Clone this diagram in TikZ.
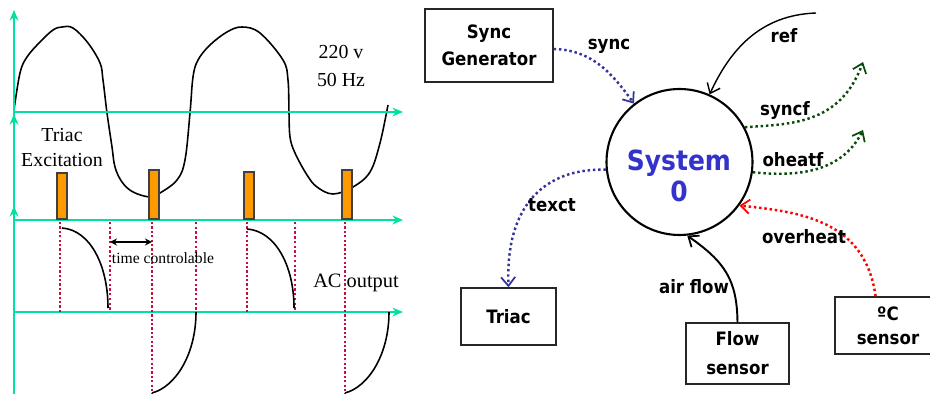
\documentclass[tikz,border=0pt]{standalone}
\usepackage{fontspec}
\setmainfont{Liberation Serif}
\newfontfamily\boxfont[FakeStretch=0.9]{DejaVu Sans}
\usetikzlibrary{arrows.meta}
\definecolor{axisgreen}{HTML}{00E0A0}
\definecolor{pulseorange}{HTML}{FF9900}
\definecolor{dotred}{HTML}{C4103C}
\definecolor{sysblue}{HTML}{3333CC}
\definecolor{linkblue}{HTML}{333399}
\definecolor{flowgreen}{HTML}{0A4A0A}
\tikzset{
  axisline/.style={axisgreen, line width=1.1pt, -{Stealth[length=6pt,width=5pt]}},
  gridline/.style={dotred, line width=1.1pt, dash pattern=on 1.3pt off 1.2pt},
  thinline/.style={dotred, line width=.7pt, dash pattern=on 1.3pt off 1.4pt},
  wave/.style={black, line width=.9pt},
  boxnode/.style={draw=black!85, line width=.8pt, align=center, inner sep=0pt, font=\boxfont\bfseries\fontsize{10.5}{15.5}\selectfont},
  flowlabel/.style={font=\boxfont\bfseries\fontsize{10.5}{12}\selectfont, inner sep=0pt},
  serifnote/.style={font=\fontsize{11.3}{12}\selectfont, inner sep=0pt, align=center},
  dotflow/.style={line width=1.4pt, dash pattern=on 1.4pt off 1.6pt, -{Straight Barb[length=5pt,width=8pt,line width=1pt]}},
}
\begin{document}
\begin{tikzpicture}[x=0.02cm,y=-0.02cm]
\useasboundingbox (0,0) rectangle (930,394);
% waveform side
\draw[wave] plot[smooth,tension=.6] coordinates {(14,110) (20,73) (27,57) (40,42) (53,30) (62,27) (73,28) (88,43) (100,63) (103,80) (107,113) (112,147) (115,167) (122,182) (133,192) (150,197) (160,193) (177,180) (185,160) (190,113) (193,77) (198,60) (210,45) (227,32) (242,27) (260,33) (283,60) (288,80) (289,113) (290,137) (295,153) (307,175) (317,187) (333,194) (353,187) (370,172) (380,143) (388,105)};
\draw[axisline] (14,120) -- (14,10);
\draw[axisline] (14,394) -- (14,114);
\draw[axisline] (14,394) -- (14,206);
\draw[axisline] (14,112) -- (403,112);
\draw[axisline] (14,220) -- (403,220);
\draw[axisline] (14,312) -- (403,312);
\foreach \px/\ptop in {62/173,154/170,249/172,347/170}
  \draw[fill=pulseorange, draw=black!75, line width=.8pt] (\px-5,\ptop) rectangle (\px+5,219);
\foreach \px/\pend in {60/312,152/394,247/312,345/394}
  \draw[gridline] (\px,222) -- (\px,\pend);
\foreach \px in {110,196,295}
  \draw[thinline] (\px,222) -- (\px,312);
\draw[wave] (62,228) .. controls (90,230) and (108,265) .. (108,308);
\draw[wave] (152,393) .. controls (175,387) and (196,355) .. (196,312);
\draw[wave] (247,229) .. controls (275,231) and (294,265) .. (294,308);
\draw[wave] (345,393) .. controls (368,387) and (389,355) .. (389,312);
\coordinate (tcleft) at (110,242);
\coordinate (tcright) at (152,242);
\draw[black, line width=.9pt, {Stealth[length=4pt,width=4pt]}-{Stealth[length=4pt,width=4pt]}] (tcleft) -- (tcright);
\node[serifnote, font=\fontsize{8.9}{10}\selectfont] (tclabel) at (163,258) {time controlable};
\node[serifnote, font=\fontsize{11.6}{12}\selectfont] (aclabel) at (356,283) {AC output};
\node[serifnote] (triaclabel) at (62,135) {Triac};
\node[serifnote] (exclabel) at (62,160) {Excitation};
\node[serifnote] (voltlabel) at (341,52) {220 v};
\node[serifnote] (freqlabel) at (341,80) {50 Hz};
% system side
\node[draw=black, line width=1.2pt, circle, minimum size=2.92cm, inner sep=0pt] (sys) at (679.5,162) {};
\node[font=\boxfont\bfseries\fontsize{15.8}{17.6}\selectfont, text=sysblue, align=center, inner sep=0pt] (syslabel) at (679,175.5) {System\\0};
\node[boxnode, minimum width=2.56cm, minimum height=1.46cm] (syncgen) at (489,45.5) {Sync\\Generator};
\node[boxnode, minimum width=1.9cm, minimum height=1.14cm] (triac) at (508.5,316.5) {Triac};
\node[boxnode, minimum width=2.06cm, minimum height=1.22cm, font=\boxfont\bfseries\fontsize{10.5}{16.5}\selectfont] (flowsens) at (737.5,353.5) {Flow\\sensor};
\node[boxnode, minimum width=2.12cm, minimum height=1.14cm, font=\boxfont\bfseries\fontsize{10.5}{13.5}\selectfont] (tempsens) at (888,325.5) {ºC\\sensor};
\coordinate (refstart) at (816,13);
\coordinate (syncfend) at (863,62);
\coordinate (oheatfend) at (863,130);
\draw[dotflow, linkblue] (syncgen.east) ++(0,3.5) .. controls (590,50) and (610,70) .. (sys.128);
\draw[black, line width=.8pt, -{Straight Barb[length=5pt,width=8pt,line width=.8pt]}] (refstart) .. controls (760,15) and (730,50) .. (sys.66);
\draw[dotflow, flowgreen] (sys.28) .. controls (790,124) and (840,125) .. (syncfend);
\draw[dotflow, flowgreen] (sys.-8) .. controls (790,176) and (840,176) .. (oheatfend);
\draw[dotflow, linkblue] (sys.186) .. controls (555,168) and (505,195) .. (triac.north);
\draw[dotflow, red] (tempsens.113) .. controls (865,220) and (800,212) .. (sys.-36);
\draw[black, line width=1.1pt, -{Straight Barb[length=5pt,width=8pt,line width=1pt]}] (flowsens.north) .. controls (737,280) and (725,262) .. (sys.-84);
\node[flowlabel] (synclabel) at (609,46) {sync};
\node[flowlabel] (reflabel) at (784,36) {ref};
\node[flowlabel] (syncflabel) at (785,110) {syncf};
\node[flowlabel] (oheatflabel) at (793,160) {oheatf};
\node[flowlabel] (texctlabel) at (552,205) {texct};
\node[flowlabel] (overheatlabel) at (804,237) {overheat};
\node[flowlabel] (airlabel) at (694,287) {air flow};
\end{tikzpicture}
\end{document}
